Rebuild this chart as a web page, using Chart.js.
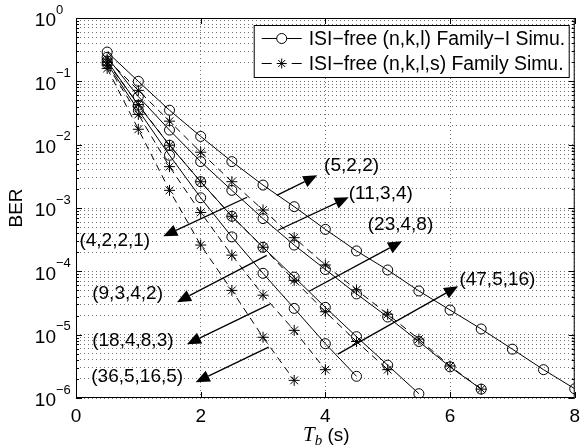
<!DOCTYPE html>
<html>
<head>
<meta charset="utf-8">
<script src="https://cdn.jsdelivr.net/npm/chart.js@4.4.1/dist/chart.umd.min.js"></script>
<style>
  html, body { margin: 0; padding: 0; background: #fff; }
  canvas { display: block; }
</style>
</head>
<body>
<canvas id="ber" width="587" height="448"></canvas>
<script>
// Bit duration T_b (s), shared x positions of every curve
const tb = [0.5, 1, 1.5, 2, 2.5, 3, 3.5, 4, 4.5, 5, 5.5, 6, 6.5, 7, 7.5, 8];

// ISI-free (n,k,l) Family-I, solid line + circles
const ber_5_2_2 = [2.9e-1, 1.0e-1, 3.5e-2, 1.35e-2, 5.4e-3, 2.3e-3, 1.05e-3, 4.6e-4, 2.1e-4, 1.05e-4, 4.9e-5, 2.45e-5, 1.23e-5, 5.9e-6, 2.8e-6, 1.4e-6];
const ber_11_3_4 = [2.4e-1, 5.75e-2, 1.7e-2, 5.4e-3, 1.9e-3, 6.8e-4, 2.6e-4, 1.07e-4, 4.4e-5, 1.9e-5, 7.8e-6, 3.1e-6, 1.38e-6];
const ber_23_4_8 = [2.1e-1, 4.2e-2, 9.8e-3, 2.6e-3, 7.4e-4, 2.4e-4, 8.1e-5, 2.7e-5, 9.3e-6, 3.3e-6, 1.17e-6];
const ber_47_5_16 = [1.9e-1, 3.5e-2, 6.8e-3, 1.45e-3, 3.5e-4, 9.3e-5, 2.6e-5, 7.2e-6, 2.2e-6];

// ISI-free (n,k,l,s) Family, dashed line + stars
const ber_4_2_2_1 = [2.25e-1, 7.2e-2, 2.35e-2, 7.6e-3, 2.6e-3, 9.3e-4, 3.4e-4, 1.26e-4, 5.1e-5, 2.1e-5, 8.5e-6, 3.2e-6, 1.38e-6];
const ber_9_3_4_2 = [2.0e-1, 4.3e-2, 9.8e-3, 2.6e-3, 7.4e-4, 2.4e-4, 7.2e-5, 2.3e-5, 7.8e-6, 2.8e-6];
const ber_18_4_8_3 = [1.8e-1, 3.0e-2, 4.5e-3, 8.5e-4, 1.8e-4, 4.2e-5, 1.17e-5, 2.8e-6];
const ber_36_5_16_5 = [1.6e-1, 1.75e-2, 1.9e-3, 2.6e-4, 5.0e-5, 9.1e-6, 1.9e-6];

const familyICodes = ['(5,2,2)', '(11,3,4)', '(23,4,8)', '(47,5,16)'];
const familyIBer = [ber_5_2_2, ber_11_3_4, ber_23_4_8, ber_47_5_16];
const familySCodes = ['(4,2,2,1)', '(9,3,4,2)', '(18,4,8,3)', '(36,5,16,5)'];
const familySBer = [ber_4_2_2_1, ber_9_3_4_2, ber_18_4_8_3, ber_36_5_16_5];

const legendLabels = ['ISI\u2212free (n,k,l) Family\u2212I Simu.', 'ISI\u2212free (n,k,l,s) Family Simu.'];

// axis ticks
const xTicks = [0, 2, 4, 6, 8];
const yDecades = [1, 1e-1, 1e-2, 1e-3, 1e-4, 1e-5, 1e-6];
const yExponents = ['0', '\u22121', '\u22122', '\u22123', '\u22124', '\u22125', '\u22126'];
const yMinorSteps = [2, 3, 4, 5, 6, 7, 8, 9];

// annotation arrows, in data units [Tb, BER]: tail on the curve, tip at the label
const arrowCodes = familyICodes.concat(familySCodes);
const arrowTail = [[3.22, 1.58e-3], [3.24, 4.45e-4], [3.74, 4.85e-5], [4.20, 4.92e-6],
                   [2.745, 1.48e-3], [3.06, 1.79e-4], [3.11, 3.03e-5], [3.09, 6.35e-6]];
const arrowTip = [[3.87, 3.28e-3], [4.375, 1.48e-3], [5.23, 2.99e-4], [6.13, 5.82e-5],
                  [1.40, 3.58e-4], [1.62, 3.26e-5], [1.78, 7.08e-6], [1.92, 1.78e-6]];
const labelAt = [[3.98, 4.57e-3], [4.375, 1.70e-3], [4.68, 5.37e-4], [6.15, 7.24e-5],
                 [0.055, 2.99e-4], [0.26, 4.37e-5], [0.26, 7.94e-6], [0.245, 2.14e-6]];

const SANS = '"Liberation Sans", Arial, Helvetica, sans-serif';
const SERIF = '"Liberation Serif", "Times New Roman", serif';

function toPoints(values) {
  return values.map((v, i) => ({ x: tb[i], y: v }));
}

const datasets = [];
familyIBer.forEach((vals, i) => {
  datasets.push({
    label: 'Family-I ' + familyICodes[i],
    data: toPoints(vals),
    borderColor: '#000',
    borderWidth: 1,
    pointStyle: 'circle',
    pointRadius: 5,
    pointBorderWidth: 1,
    pointBorderColor: '#000',
    pointBackgroundColor: 'rgba(0,0,0,0)',
    tension: 0
  });
});
familySBer.forEach((vals, i) => {
  datasets.push({
    label: 'Family ' + familySCodes[i],
    data: toPoints(vals),
    borderColor: '#000',
    borderWidth: 1,
    borderDash: [7, 5],
    pointStyle: 'star',
    pointRadius: 5.5,
    pointBorderWidth: 1,
    pointBorderColor: '#000',
    pointBackgroundColor: 'rgba(0,0,0,0)',
    tension: 0
  });
});

function drawStar(ctx, cx, cy, r) {
  ctx.beginPath();
  ctx.moveTo(cx - r, cy); ctx.lineTo(cx + r, cy);
  ctx.moveTo(cx, cy - r); ctx.lineTo(cx, cy + r);
  const d = r * 0.707;
  ctx.moveTo(cx - d, cy - d); ctx.lineTo(cx + d, cy + d);
  ctx.moveTo(cx - d, cy + d); ctx.lineTo(cx + d, cy - d);
  ctx.stroke();
}

function drawArrow(ctx, x0, y0, x1, y1) {
  const ang = Math.atan2(y1 - y0, x1 - x0);
  const L = 14, W = 6;
  const bx = x1 - L * Math.cos(ang), by = y1 - L * Math.sin(ang);
  ctx.beginPath();
  ctx.moveTo(x0, y0);
  ctx.lineTo(bx, by);
  ctx.stroke();
  ctx.beginPath();
  ctx.moveTo(x1, y1);
  ctx.lineTo(bx + W * Math.sin(ang), by - W * Math.cos(ang));
  ctx.lineTo(bx - W * Math.sin(ang), by + W * Math.cos(ang));
  ctx.closePath();
  ctx.fill();
}

// frame, inward ticks, y labels with exponents, axis titles, arrows and legend
const decorPlugin = {
  id: 'decor',
  afterDatasetsDraw(chart) {
    const { ctx, scales: { x, y } } = chart;
    ctx.save();
    ctx.strokeStyle = '#000';
    ctx.fillStyle = '#000';
    ctx.lineWidth = 1.3;
    for (let i = 0; i < arrowCodes.length; i++) {
      drawArrow(ctx,
        x.getPixelForValue(arrowTail[i][0]), y.getPixelForValue(arrowTail[i][1]),
        x.getPixelForValue(arrowTip[i][0]), y.getPixelForValue(arrowTip[i][1]));
    }
    ctx.font = '19px ' + SANS;
    ctx.textAlign = 'left';
    ctx.textBaseline = 'middle';
    for (let i = 0; i < arrowCodes.length; i++) {
      ctx.fillText(arrowCodes[i], x.getPixelForValue(labelAt[i][0]), y.getPixelForValue(labelAt[i][1]));
    }
    ctx.restore();
  },
  afterDraw(chart) {
    const { ctx, chartArea: a, scales: { x, y } } = chart;
    ctx.save();
    ctx.strokeStyle = '#000';
    ctx.fillStyle = '#000';
    ctx.lineWidth = 1;

    // box
    ctx.strokeRect(a.left + 0.5, a.top + 0.5, a.right - a.left - 1, a.bottom - a.top - 1);

    // y ticks, both sides
    ctx.beginPath();
    y.ticks.forEach(t => {
      const py = Math.round(y.getPixelForValue(t.value)) + 0.5;
      const len = yDecades.includes(t.value) ? 6 : 3;
      ctx.moveTo(a.left, py); ctx.lineTo(a.left + len, py);
      ctx.moveTo(a.right, py); ctx.lineTo(a.right - len, py);
    });
    // x ticks, top and bottom
    xTicks.forEach(v => {
      const px = Math.round(x.getPixelForValue(v)) + 0.5;
      ctx.moveTo(px, a.bottom); ctx.lineTo(px, a.bottom - 6);
      ctx.moveTo(px, a.top); ctx.lineTo(px, a.top + 6);
    });
    ctx.stroke();

    // y tick labels: 10 with superscript exponent
    yDecades.forEach((v, i) => {
      const py = y.getPixelForValue(v);
      ctx.font = '19px ' + SANS;
      ctx.textAlign = 'right';
      ctx.textBaseline = 'middle';
      ctx.fillText('10', 56, py + 3);
      ctx.font = '13px ' + SANS;
      ctx.textAlign = 'left';
      ctx.fillText(yExponents[i], 56, py - 8);
    });

    // y title
    ctx.save();
    ctx.translate(17, (a.top + a.bottom) / 2);
    ctx.rotate(-Math.PI / 2);
    ctx.font = '19px ' + SANS;
    ctx.textAlign = 'center';
    ctx.textBaseline = 'middle';
    ctx.fillText('BER', 0, 0);
    ctx.restore();

    // x title: T_b (s)
    ctx.textAlign = 'left';
    ctx.textBaseline = 'alphabetic';
    let tx = 303;
    ctx.font = 'italic 21px ' + SERIF;
    ctx.fillText('T', tx, 441);
    tx += ctx.measureText('T').width;
    ctx.font = 'italic 15px ' + SERIF;
    ctx.fillText('b', tx, 445);
    tx += ctx.measureText('b').width;
    ctx.font = '19px ' + SANS;
    ctx.fillText(' (s)', tx, 441);

    // legend
    const lx = a.right - 321, ly = a.top + 7, lw = 315, lh = 52;
    ctx.fillStyle = '#fff';
    ctx.fillRect(lx, ly, lw, lh);
    ctx.fillStyle = '#000';
    ctx.strokeRect(lx + 0.5, ly + 0.5, lw, lh);
    const r1 = ly + 13.5, r2 = ly + 38.5;
    ctx.beginPath();
    ctx.moveTo(lx + 8, r1); ctx.lineTo(lx + 48, r1);
    ctx.stroke();
    ctx.beginPath();
    ctx.arc(lx + 28, r1, 5, 0, Math.PI * 2);
    ctx.fillStyle = '#fff';
    ctx.fill();
    ctx.stroke();
    ctx.fillStyle = '#000';
    ctx.beginPath();
    ctx.moveTo(lx + 8, r2); ctx.lineTo(lx + 18, r2);
    ctx.moveTo(lx + 38, r2); ctx.lineTo(lx + 48, r2);
    ctx.stroke();
    drawStar(ctx, lx + 28, r2, 5);
    ctx.font = '19.4px ' + SANS;
    ctx.textAlign = 'left';
    ctx.textBaseline = 'middle';
    ctx.fillText(legendLabels[0], lx + 55, r1 + 1);
    ctx.fillText(legendLabels[1], lx + 55, r2 + 1);
    ctx.restore();
  }
};

new Chart(document.getElementById('ber'), {
  type: 'line',
  data: { datasets },
  options: {
    responsive: false,
    animation: false,
    devicePixelRatio: 1,
    layout: { padding: { top: 18, right: 4, left: 0, bottom: 0 } },
    plugins: { legend: { display: false }, tooltip: { enabled: false } },
    scales: {
      x: {
        type: 'linear',
        min: 0,
        max: 8,
        afterBuildTicks: s => { s.ticks = xTicks.map(v => ({ value: v })); },
        afterFit: s => { s.height = 50; },
        ticks: {
          color: '#000',
          font: { family: SANS, size: 19 },
          padding: 7,
          maxRotation: 0,
          autoSkip: false
        },
        grid: { color: 'rgba(0,0,0,0.55)', lineWidth: 1, drawTicks: false },
        border: { display: false, dash: [1, 3] }
      },
      y: {
        type: 'logarithmic',
        min: 1e-6,
        max: 1,
        afterBuildTicks: s => {
          const t = [];
          for (let i = yDecades.length - 1; i > 0; i--) {
            t.push({ value: yDecades[i] });
            yMinorSteps.forEach(m => t.push({ value: m * yDecades[i] }));
          }
          t.push({ value: yDecades[0] });
          s.ticks = t;
        },
        afterFit: s => { s.width = 76; },
        ticks: { display: false, autoSkip: false },
        grid: { color: 'rgba(0,0,0,0.55)', lineWidth: 1, drawTicks: false },
        border: { display: false, dash: [1, 3] }
      }
    }
  },
  plugins: [decorPlugin]
});
</script>
</body>
</html>
